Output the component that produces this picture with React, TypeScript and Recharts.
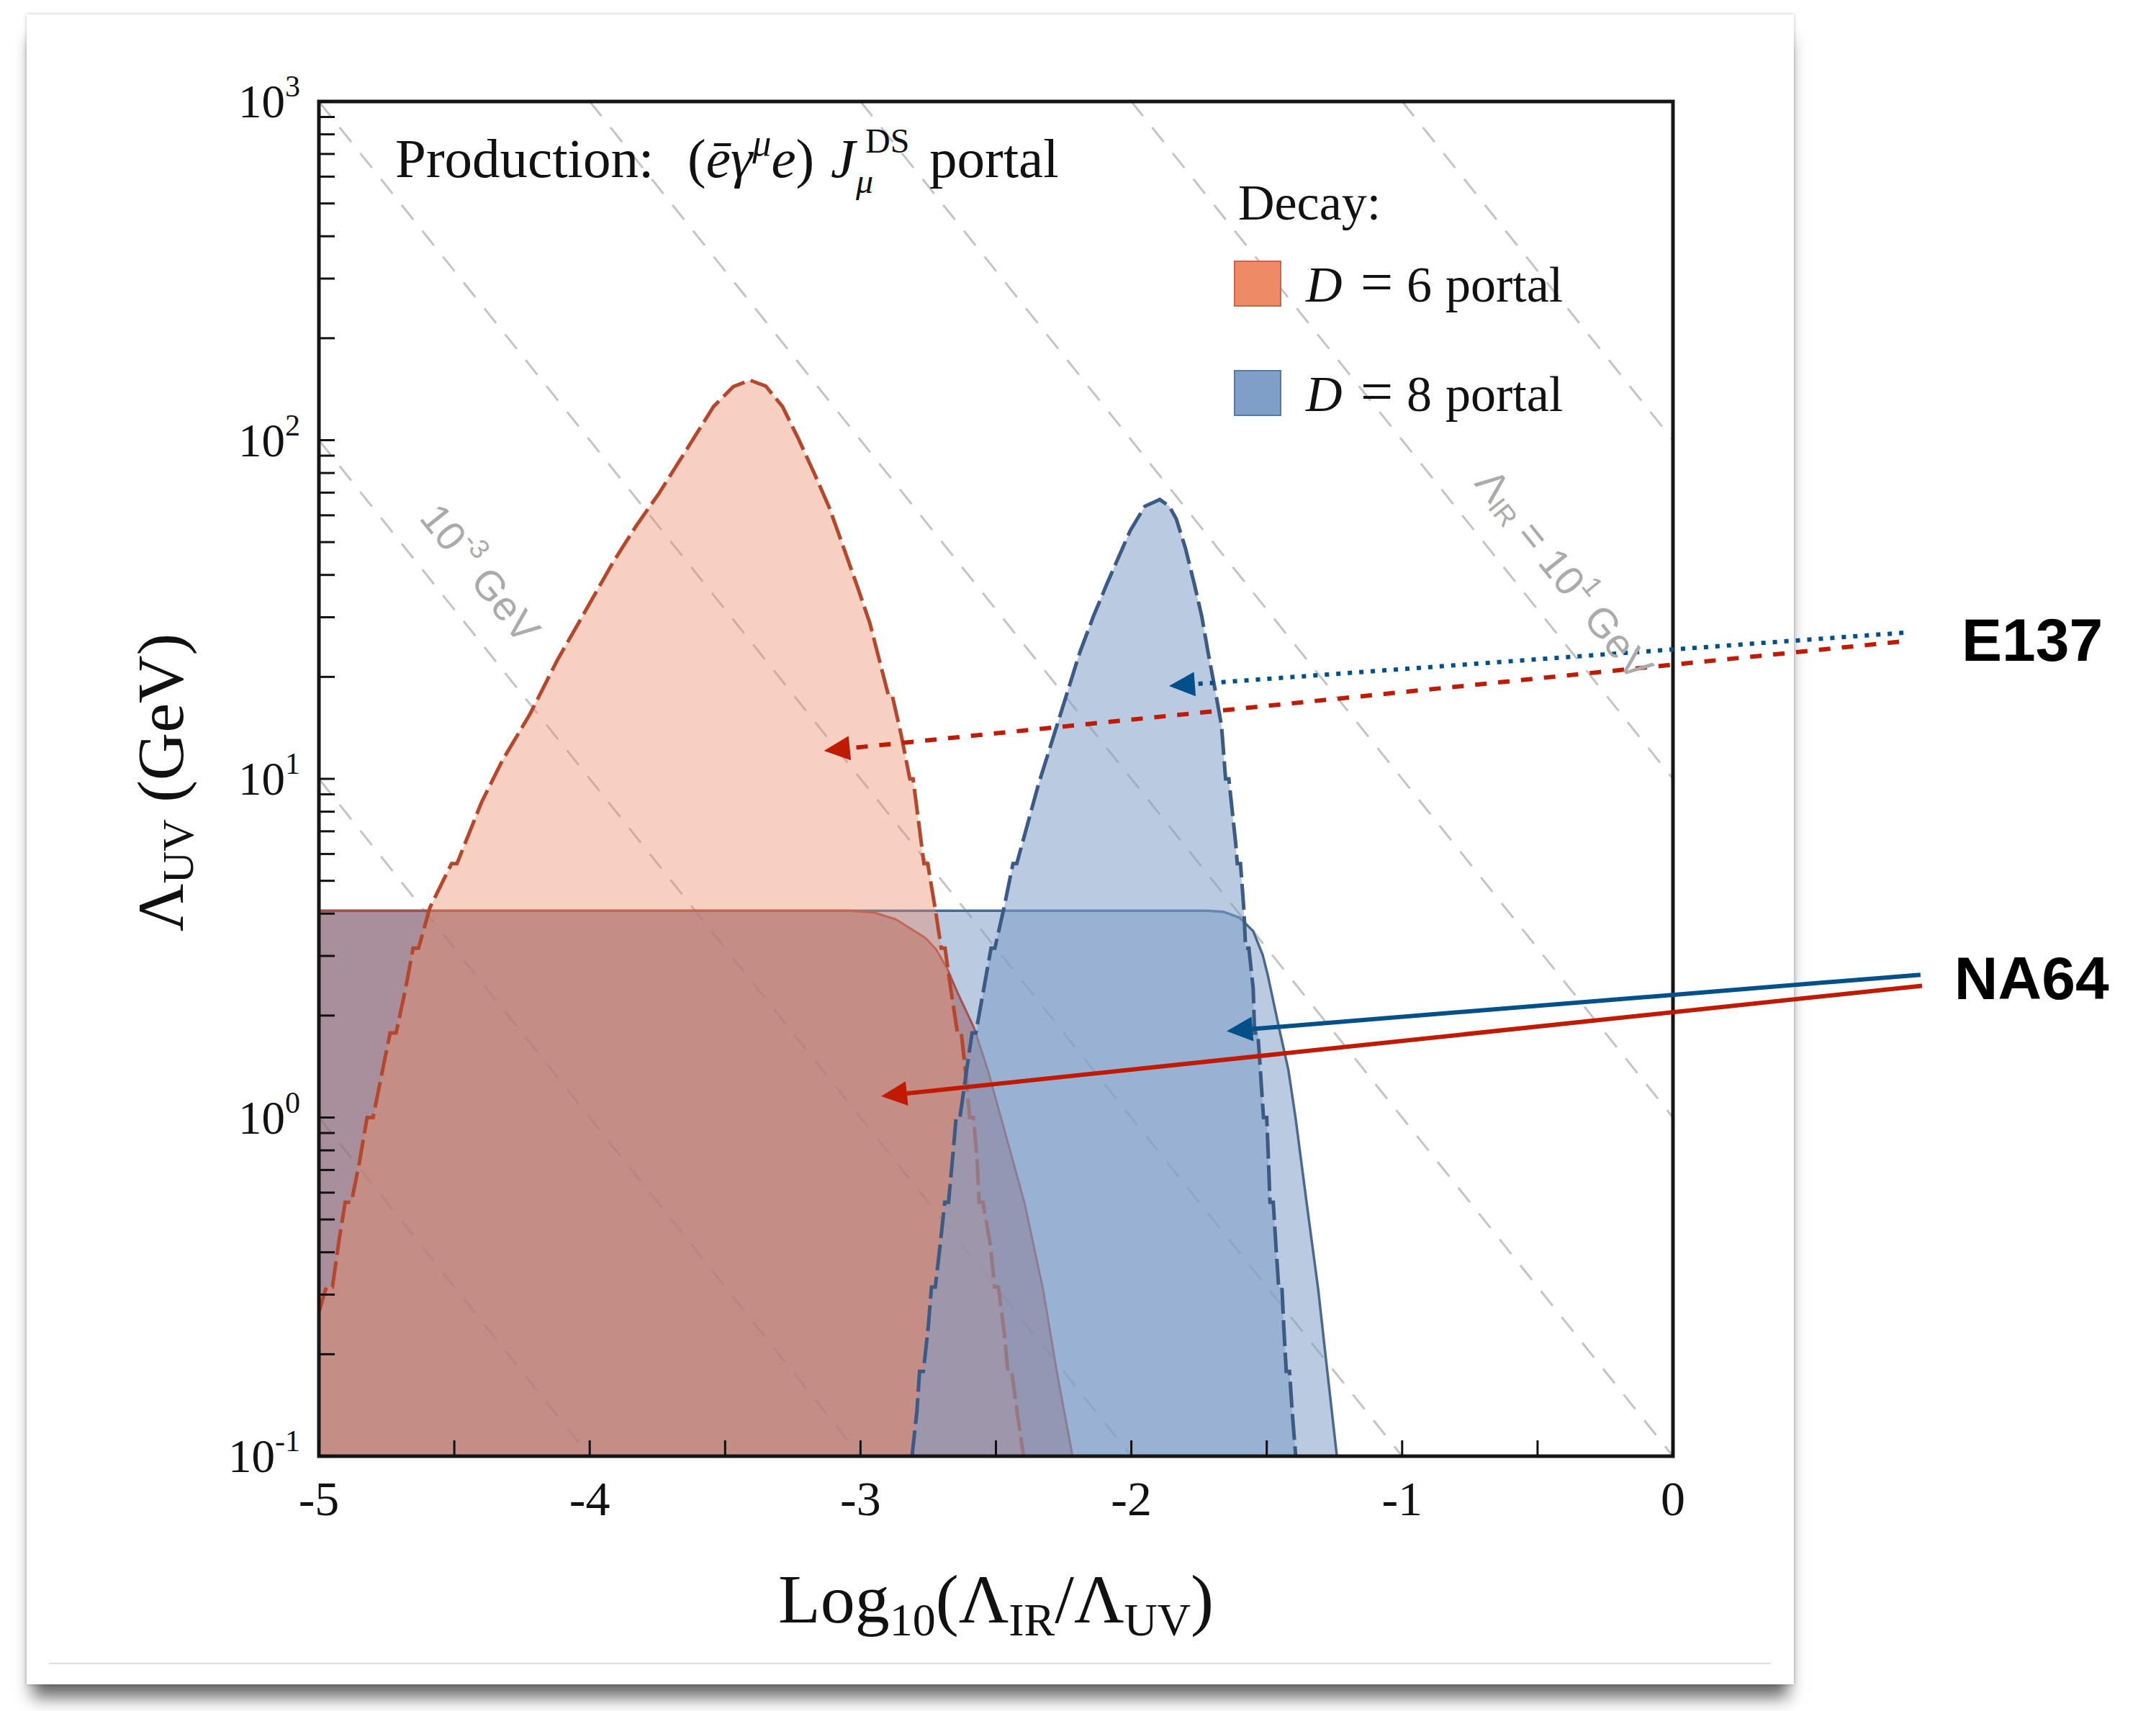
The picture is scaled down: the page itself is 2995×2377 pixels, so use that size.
import React from "react";
import {
  ComposedChart,
  Area,
  XAxis,
  YAxis,
  ReferenceLine,
  ReferenceArea,
  ReferenceDot,
  Legend,
} from "recharts";

const SERIF = "'Liberation Serif', 'Times New Roman', serif";
const SANS = "'Liberation Sans', Arial, sans-serif";

const WIDTH = 2995;
const HEIGHT = 2377;
const MARGIN = { top: 141, right: 671, bottom: 254, left: 343 };
const Y_AXIS_W = 100;
const X_AXIS_H = 100;
const PLOT_W = WIDTH - MARGIN.left - Y_AXIS_W - MARGIN.right;
const PLOT_H = HEIGHT - MARGIN.top - MARGIN.bottom - X_AXIS_H;
// angle of the constant Lambda_IR lines on screen (5 x-units, 4 decades)
const SLOPE_DEG = (Math.atan(PLOT_H / 4 / (PLOT_W / 5)) * 180) / Math.PI;

// E137 reach, D = 6 decay portal (x = log10(IR/UV), y = Lambda_UV in GeV)
const e137D6 = [
  { x: -5.0, y: 0.266 }, { x: -4.98, y: 0.302 }, { x: -4.972, y: 0.316 }, { x: -4.95, y: 0.316 },
  { x: -4.925, y: 0.437 }, { x: -4.903, y: 0.562 }, { x: -4.88, y: 0.562 }, { x: -4.85, y: 0.741 },
  { x: -4.822, y: 1.0 }, { x: -4.8, y: 1.0 }, { x: -4.77, y: 1.318 }, { x: -4.737, y: 1.778 },
  { x: -4.715, y: 1.778 }, { x: -4.68, y: 2.399 }, { x: -4.652, y: 3.162 }, { x: -4.632, y: 3.162 },
  { x: -4.59, y: 4.169 }, { x: -4.51, y: 5.623 }, { x: -4.49, y: 5.623 }, { x: -4.4, y: 8.51 },
  { x: -4.322, y: 11.35 }, { x: -4.221, y: 15.52 }, { x: -4.118, y: 22.54 }, { x: -4.02, y: 30.9 },
  { x: -3.915, y: 43.45 }, { x: -3.83, y: 55.6 }, { x: -3.745, y: 69.5 }, { x: -3.64, y: 94.4 },
  { x: -3.543, y: 125.6 }, { x: -3.47, y: 143.9 }, { x: -3.408, y: 150.3 }, { x: -3.35, y: 144.5 },
  { x: -3.288, y: 125.6 }, { x: -3.23, y: 101.2 }, { x: -3.168, y: 78.9 }, { x: -3.115, y: 63.1 },
  { x: -3.067, y: 49.3 }, { x: -3.015, y: 37.6 }, { x: -2.966, y: 28.9 }, { x: -2.898, y: 17.78 },
  { x: -2.884, y: 17.78 }, { x: -2.85, y: 13.49 }, { x: -2.818, y: 10.0 }, { x: -2.806, y: 10.0 },
  { x: -2.785, y: 7.41 }, { x: -2.766, y: 5.623 }, { x: -2.752, y: 5.623 }, { x: -2.725, y: 4.169 },
  { x: -2.702, y: 3.162 }, { x: -2.688, y: 3.162 }, { x: -2.665, y: 2.344 }, { x: -2.642, y: 1.778 },
  { x: -2.628, y: 1.778 }, { x: -2.61, y: 1.318 }, { x: -2.597, y: 1.0 }, { x: -2.583, y: 1.0 },
  { x: -2.57, y: 0.759 }, { x: -2.562, y: 0.562 }, { x: -2.548, y: 0.562 }, { x: -2.52, y: 0.417 },
  { x: -2.505, y: 0.316 }, { x: -2.491, y: 0.316 }, { x: -2.47, y: 0.234 }, { x: -2.456, y: 0.178 },
  { x: -2.442, y: 0.178 }, { x: -2.42, y: 0.132 }, { x: -2.398, y: 0.1 },
];

// E137 reach, D = 8 decay portal
const e137D8 = [
  { x: -2.81, y: 0.1 }, { x: -2.792, y: 0.135 }, { x: -2.782, y: 0.178 }, { x: -2.768, y: 0.178 },
  { x: -2.75, y: 0.24 }, { x: -2.738, y: 0.316 }, { x: -2.724, y: 0.316 }, { x: -2.705, y: 0.427 },
  { x: -2.689, y: 0.562 }, { x: -2.675, y: 0.562 }, { x: -2.66, y: 0.759 }, { x: -2.647, y: 1.0 },
  { x: -2.633, y: 1.0 }, { x: -2.61, y: 1.349 }, { x: -2.588, y: 1.778 }, { x: -2.574, y: 1.778 },
  { x: -2.545, y: 2.399 }, { x: -2.518, y: 3.162 }, { x: -2.504, y: 3.162 }, { x: -2.47, y: 4.169 },
  { x: -2.437, y: 5.623 }, { x: -2.423, y: 5.623 }, { x: -2.344, y: 9.57 }, { x: -2.275, y: 14.35 },
  { x: -2.19, y: 23.66 }, { x: -2.14, y: 30.2 }, { x: -2.089, y: 37.84 }, { x: -2.004, y: 54.1 },
  { x: -1.95, y: 63.8 }, { x: -1.895, y: 66.8 }, { x: -1.86, y: 63.8 }, { x: -1.834, y: 58.5 },
  { x: -1.8, y: 47.9 }, { x: -1.768, y: 37.8 }, { x: -1.74, y: 30.2 }, { x: -1.717, y: 23.7 },
  { x: -1.69, y: 18.2 }, { x: -1.667, y: 14.35 }, { x: -1.652, y: 10.0 }, { x: -1.64, y: 10.0 },
  { x: -1.614, y: 6.37 }, { x: -1.609, y: 5.623 }, { x: -1.597, y: 5.623 }, { x: -1.585, y: 4.17 },
  { x: -1.578, y: 3.162 }, { x: -1.566, y: 3.162 }, { x: -1.55, y: 2.4 }, { x: -1.545, y: 1.778 },
  { x: -1.533, y: 1.778 }, { x: -1.522, y: 1.318 }, { x: -1.512, y: 1.0 }, { x: -1.5, y: 1.0 },
  { x: -1.494, y: 0.759 }, { x: -1.488, y: 0.562 }, { x: -1.476, y: 0.562 }, { x: -1.466, y: 0.417 },
  { x: -1.456, y: 0.316 }, { x: -1.444, y: 0.316 }, { x: -1.437, y: 0.24 }, { x: -1.428, y: 0.178 },
  { x: -1.416, y: 0.178 }, { x: -1.405, y: 0.132 }, { x: -1.393, y: 0.1 },
];

// NA64 reach, D = 8 decay portal
const na64D8 = [
  { x: -5.0, y: 4.08 }, { x: -1.72, y: 4.08 }, { x: -1.66, y: 4.05 }, { x: -1.6, y: 3.89 },
  { x: -1.55, y: 3.55 }, { x: -1.515, y: 3.02 }, { x: -1.497, y: 2.65 }, { x: -1.454, y: 1.83 },
  { x: -1.42, y: 1.38 }, { x: -1.393, y: 0.989 }, { x: -1.353, y: 0.562 }, { x: -1.31, y: 0.311 },
  { x: -1.276, y: 0.177 }, { x: -1.241, y: 0.1 },
];

// NA64 reach, D = 6 decay portal
const na64D6 = [
  { x: -5.0, y: 4.08 }, { x: -3.05, y: 4.08 }, { x: -2.95, y: 4.03 }, { x: -2.87, y: 3.85 },
  { x: -2.812, y: 3.6 }, { x: -2.76, y: 3.39 }, { x: -2.72, y: 3.13 }, { x: -2.68, y: 2.75 },
  { x: -2.642, y: 2.34 }, { x: -2.581, y: 1.84 }, { x: -2.53, y: 1.38 }, { x: -2.48, y: 0.989 },
  { x: -2.395, y: 0.562 }, { x: -2.326, y: 0.311 }, { x: -2.275, y: 0.177 }, { x: -2.217, y: 0.1 },
];

// log10(Lambda_IR / GeV) of the grey guide lines
const irLevels = [-5, -4, -3, -2, -1, 0, 1, 2];
const irLabels = [
  { x: -4.528, y: 33.7, pre: "", sub: "", main: "10", sup: "-3", tail: " GeV" },
  { x: -0.525, y: 33.4, pre: "Λ", sub: "IR", main: " = 10", sup: "1", tail: " GeV" },
];

const xTicks = [-5, -4.5, -4, -3.5, -3, -2.5, -2, -1.5, -1, -0.5, 0];
const yMajor = [0.1, 1, 10, 100, 1000];
const yMajorExp = ["-1", "0", "1", "2", "3"];
const yMinor = [
  0.2, 0.3, 0.4, 0.5, 0.6, 0.7, 0.8, 0.9, 2, 3, 4, 5, 6, 7, 8, 9,
  20, 30, 40, 50, 60, 70, 80, 90, 200, 300, 400, 500, 600, 700, 800, 900,
];
const yTicks = [...yMajor, ...yMinor].sort((a, b) => a - b);

const decayLabels = ["6", "8"];

// arrows: from the experiment label (right) to the region they point at
const e137Arrows = [
  { portal: "d8", from: { x: 0.851, y: 27.0 }, to: { x: -1.861, y: 18.8 } },
  { portal: "d6", from: { x: 0.835, y: 25.4 }, to: { x: -3.135, y: 12.1 } },
];
const na64Arrows = [
  { portal: "d8", from: { x: 0.914, y: 2.64 }, to: { x: -1.648, y: 1.8 } },
  { portal: "d6", from: { x: 0.92, y: 2.45 }, to: { x: -2.924, y: 1.156 } },
];
const experiments = [
  { name: "E137", x: 1.066, y: 22.3 },
  { name: "NA64", x: 1.039, y: 2.24 },
];

const ARROW_COLOR: Record<string, string> = { d6: "#bf1a02", d8: "#02508a" };
const LEGEND_FILL = ["#ee8a66", "#7f9fc8"];
const LEGEND_EDGE = ["#c8664a", "#5877a3"];

const YTick = (props: any) => {
  const { x, y, payload } = props;
  const i = yMajor.indexOf(payload.value);
  return (
    <g>
      <line x1={x} y1={y} x2={x + 22} y2={y} stroke="#111" strokeWidth={3} />
      {i >= 0 && (
        <text x={x - 26} y={y + 22} textAnchor="end" fontFamily={SERIF} fontSize={65} fill="#111">
          10
          <tspan dy={-29} fontSize={42}>
            {yMajorExp[i]}
          </tspan>
        </text>
      )}
    </g>
  );
};

const XTick = (props: any) => {
  const { x, y, payload } = props;
  const v = payload.value;
  return (
    <g>
      <line x1={x} y1={y} x2={x} y2={y - 22} stroke="#111" strokeWidth={3} />
      {Number.isInteger(v) && (
        <text x={x} y={y + 82} textAnchor="middle" fontFamily={SERIF} fontSize={68} fill="#111">
          {v === 0 ? "0" : `-${Math.abs(v)}`}
        </text>
      )}
    </g>
  );
};

const XLabel = (props: any) => {
  const vb = props.viewBox;
  const cx = vb.x + vb.width / 2;
  const y = vb.y + 231;
  return (
    <text x={cx} y={y} textAnchor="middle" fontFamily={SERIF} fontSize={96} fill="#111">
      Log
      <tspan fontSize={64} dy={18}>10</tspan>
      <tspan dy={-18}>(Λ</tspan>
      <tspan fontSize={64} dy={18}>IR</tspan>
      <tspan dy={-18}>/Λ</tspan>
      <tspan fontSize={64} dy={18}>UV</tspan>
      <tspan dy={-18}>)</tspan>
    </text>
  );
};

const YLabel = (props: any) => {
  const vb = props.viewBox;
  const x = vb.x + vb.width - 189;
  const cy = vb.y + vb.height / 2 + 5;
  return (
    <text
      x={x}
      y={cy}
      transform={`rotate(-90 ${x} ${cy})`}
      textAnchor="middle"
      fontFamily={SERIF}
      fontSize={92}
      fill="#111"
    >
      Λ
      <tspan fontSize={62} dy={14}>UV</tspan>
      <tspan dy={-14}> (GeV)</tspan>
    </text>
  );
};

const TitleLabel = (props: any) => {
  const x0 = props.viewBox.x;
  const y0 = props.viewBox.y;
  return (
    <g fontFamily={SERIF} fontSize={77} fill="#111">
      <text x={x0} y={y0}>
        <tspan>Production:</tspan>
        <tspan x={x0 + 406}>(</tspan>
        <tspan fontStyle="italic">ēγ</tspan>
        <tspan fontStyle="italic" fontSize={52} dy={-30}>μ</tspan>
        <tspan fontStyle="italic" dy={30}>e</tspan>
        <tspan>)</tspan>
      </text>
      <text x={x0 + 605} y={y0} fontStyle="italic">J</text>
      <text x={x0 + 640} y={y0 + 22} fontStyle="italic" fontSize={48}>μ</text>
      <text x={x0 + 653} y={y0 - 34} fontSize={48}>DS</text>
      <text x={x0 + 742} y={y0}>portal</text>
    </g>
  );
};

const DiagLabel = ({ viewBox, item }: any) => {
  const rad = (SLOPE_DEG * Math.PI) / 180;
  const off = 60;
  const px = viewBox.x + off * Math.sin(rad);
  const py = viewBox.y - off * Math.cos(rad);
  return (
    <text
      x={px}
      y={py}
      transform={`rotate(${SLOPE_DEG} ${px} ${py})`}
      textAnchor="middle"
      dominantBaseline="central"
      fontFamily={SANS}
      fontSize={57}
      fill="#ababab"
    >
      {item.pre}
      {item.sub && (
        <tspan fontSize={38} dy={13}>
          {item.sub}
        </tspan>
      )}
      <tspan dy={item.sub ? -13 : 0}>{item.main}</tspan>
      <tspan fontSize={38} dy={-20}>
        {item.sup}
      </tspan>
      <tspan dy={20}>{item.tail}</tspan>
    </text>
  );
};

const ExperimentLabel = ({ viewBox, name }: any) => (
  <text x={viewBox.x} y={viewBox.y} fontFamily={SANS} fontWeight="bold" fontSize={84} fill="#000">
    {name}
  </text>
);

const arrowShape = (color: string, dash?: string) => (p: any) => {
  const { x1, y1, x2, y2 } = p;
  const dx = x2 - x1;
  const dy = y2 - y1;
  const len = Math.hypot(dx, dy) || 1;
  const ux = dx / len;
  const uy = dy / len;
  const hl = 36;
  const hw = 17;
  const bx = x2 - ux * hl;
  const by = y2 - uy * hl;
  const pts = `${x2},${y2} ${bx - uy * hw},${by + ux * hw} ${bx + uy * hw},${by - ux * hw}`;
  return (
    <g>
      <line x1={x1} y1={y1} x2={bx} y2={by} stroke={color} strokeWidth={6} strokeDasharray={dash} />
      <polygon points={pts} fill={color} />
    </g>
  );
};

const renderLegend = () => (
  <svg width={560} height={380} style={{ overflow: "visible", display: "block" }}>
    <text x={30} y={75} fontFamily={SERIF} fontSize={70} fill="#111">
      Decay:
    </text>
    {decayLabels.map((d, i) => (
      <g key={d} transform={`translate(0, ${i * 152})`}>
        <rect x={25} y={133} width={64} height={62} fill={LEGEND_FILL[i]} stroke={LEGEND_EDGE[i]} strokeWidth={2} />
        <g fontFamily={SERIF} fontSize={70} fill="#111">
          <text x={124} y={189} fontStyle="italic">D</text>
          <text x={200} y={189} fontSize={80}>=</text>
          <text x={264} y={189}>{d}</text>
          <text x={318} y={189}>portal</text>
        </g>
      </g>
    ))}
  </svg>
);

export default function App() {
  return (
    <div style={{ position: "absolute", left: 0, top: 0, width: WIDTH, height: HEIGHT, background: "#fff", overflow: "hidden" }}>
      <div
        style={{
          position: "absolute",
          left: 37,
          top: 20,
          width: 2455,
          height: 2320,
          background: "#fff",
          boxShadow: "0 26px 22px -8px rgba(0,0,0,0.6), 0 0 5px rgba(0,0,0,0.25)",
        }}
      />
      <div style={{ position: "absolute", left: 68, top: 2310, width: 2392, height: 2, background: "#dedede" }} />
      <div style={{ position: "absolute", left: 0, top: 0 }}>
        <ComposedChart width={WIDTH} height={HEIGHT} margin={MARGIN}>
          <XAxis
            type="number"
            dataKey="x"
            domain={[-5, 0]}
            allowDataOverflow
            ticks={xTicks}
            interval={0}
            tick={XTick}
            tickLine={false}
            axisLine={false}
            tickSize={0}
            tickMargin={0}
            height={X_AXIS_H}
            label={{ content: XLabel }}
          />
          <YAxis
            type="number"
            scale="log"
            domain={[0.1, 1000]}
            allowDataOverflow
            ticks={yTicks}
            interval={0}
            tick={YTick}
            tickLine={false}
            axisLine={false}
            tickSize={0}
            tickMargin={0}
            width={Y_AXIS_W}
            label={{ content: YLabel }}
          />

          {irLevels.map((k) => {
            const xa = Math.max(-5, k - 3);
            const xb = Math.min(0, k + 1);
            return (
              <ReferenceLine
                key={`ir${k}`}
                segment={[
                  { x: xa, y: Math.pow(10, k - xa) },
                  { x: xb, y: Math.pow(10, k - xb) },
                ]}
                stroke="#c4c4c4"
                strokeWidth={3}
                strokeDasharray="26 20"
                ifOverflow="visible"
                zIndex={50}
              />
            );
          })}

          <Area data={na64D8} dataKey="y" type="linear" baseValue={0.1} fill="#7f9fc8" fillOpacity={0.55} stroke="#4a6890" strokeWidth={3.5} dot={false} activeDot={false} isAnimationActive={false} name="NA64 D8" />
          <Area data={na64D6} dataKey="y" type="linear" baseValue={0.1} fill="#995455" fillOpacity={0.5} stroke="#a0524e" strokeWidth={3} dot={false} activeDot={false} isAnimationActive={false} name="NA64 D6" />
          <Area data={e137D6} dataKey="y" type="linear" baseValue={0.1} fill="#ee8a66" fillOpacity={0.4} stroke="#b5482c" strokeWidth={5} strokeDasharray="36 9" dot={false} activeDot={false} isAnimationActive={false} name="E137 D6" />
          <Area data={e137D8} dataKey="y" type="linear" baseValue={0.1} fill="#7f9fc8" fillOpacity={0.55} stroke="#3b5b85" strokeWidth={5} strokeDasharray="36 9" dot={false} activeDot={false} isAnimationActive={false} name="E137 D8" />

          <ReferenceArea x1={-5} x2={0} y1={0.1} y2={1000} fill="none" stroke="#161616" strokeWidth={5} ifOverflow="visible" />

          {[...e137Arrows, ...na64Arrows].map((a, i) => (
            <ReferenceLine
              key={`arrow${i}`}
              segment={[a.from, a.to]}
              ifOverflow="visible"
              stroke={ARROW_COLOR[a.portal]}
              shape={arrowShape(
                ARROW_COLOR[a.portal],
                i === 0 ? "6 10" : i === 1 ? "16 16" : undefined
              )}
            />
          ))}

          {irLabels.map((it, i) => (
            <ReferenceDot
              key={`irl${i}`}
              x={it.x}
              y={it.y}
              r={0}
              fill="none"
              stroke="none"
              ifOverflow="visible"
              label={(p: any) => <DiagLabel viewBox={p.viewBox} item={it} />}
            />
          ))}

          {experiments.map((e) => (
            <ReferenceDot
              key={e.name}
              x={e.x}
              y={e.y}
              r={0}
              fill="none"
              stroke="none"
              ifOverflow="visible"
              label={(p: any) => <ExperimentLabel viewBox={p.viewBox} name={e.name} />}
            />
          ))}

          <ReferenceDot x={-4.718} y={598} r={0} fill="none" stroke="none" ifOverflow="visible" label={TitleLabel} />

          <Legend
            layout="vertical"
            align="center"
            verticalAlign="middle"
            content={renderLegend}
            wrapperStyle={{ left: 1690, top: 230, width: 560, height: 380 }}
          />
        </ComposedChart>
      </div>
    </div>
  );
}
